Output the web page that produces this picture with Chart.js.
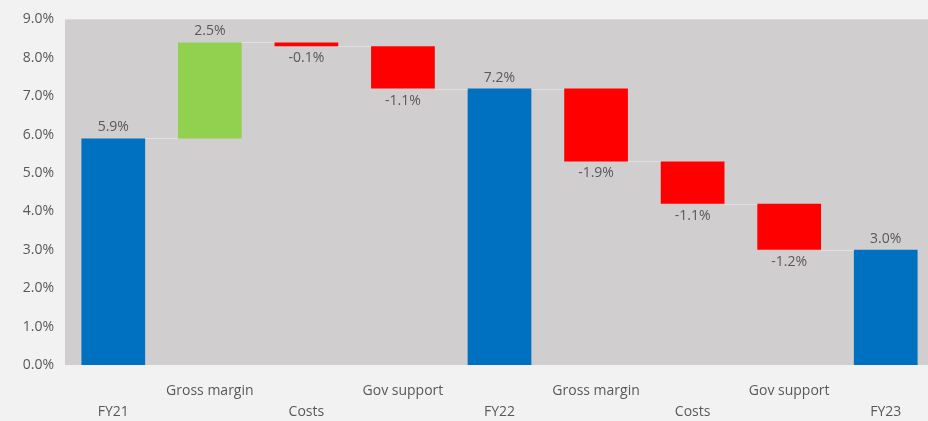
<!DOCTYPE html>
<html>
<head>
<meta charset="utf-8">
<script src="https://cdn.jsdelivr.net/npm/chart.js@4.4.1/dist/chart.umd.min.js"></script>
<style>
  html, body { margin: 0; padding: 0; background: #f2f2f2; overflow: hidden; }
  #wrap { width: 934px; height: 421px; }
</style>
</head>
<body>
<div id="wrap"><canvas id="waterfall"></canvas></div>
<script>
// Catégories et variations de marge (en %)
const categories = ['FY21', 'Gross margin', 'Costs', 'Gov support', 'FY22', 'Gross margin', 'Costs', 'Gov support', 'FY23'];
const changes = [5.9, 2.5, -0.1, -1.1, 7.2, -1.9, -1.1, -1.2, 3.0];
const isTotal = [true, false, false, false, true, false, false, false, true];
const yTicks = [0, 1, 2, 3, 4, 5, 6, 7, 8, 9];

const BLUE = '#0070c0', GREEN = '#92d050', RED = '#ff0000';
const TEXT = '#595959';
const FONT = 'Open Sans';

// Calcul des barres flottantes [début, fin]
const ranges = [];
let level = 0;
changes.forEach((v, i) => {
    if (isTotal[i]) {
        level = v;
        ranges.push([0, v]);
    } else {
        ranges.push([level, +(level + v).toFixed(2)]);
        level = +(level + v).toFixed(2);
    }
});
const colors = changes.map((v, i) => isTotal[i] ? BLUE : (v >= 0 ? GREEN : RED));

// Fond gris de la zone de tracé + lignes de liaison
const plotBackground = {
    id: 'plotBackground',
    beforeDraw(chart) {
        const { ctx, chartArea: a } = chart;
        ctx.save();
        ctx.fillStyle = '#d0cece';
        ctx.fillRect(a.left, a.top, a.right - a.left, a.bottom - a.top);
        ctx.restore();
    },
    afterDatasetsDraw(chart) {
        const { ctx, scales } = chart;
        const meta = chart.getDatasetMeta(0);
        ctx.save();
        ctx.strokeStyle = 'rgba(235,235,235,0.6)';
        ctx.lineWidth = 1;
        for (let i = 0; i < ranges.length - 1; i++) {
            const y = Math.round(scales.y.getPixelForValue(ranges[i][1])) + 0.5;
            const b1 = meta.data[i], b2 = meta.data[i + 1];
            ctx.beginPath();
            ctx.moveTo(b1.x + b1.width / 2, y);
            ctx.lineTo(b2.x - b2.width / 2, y);
            ctx.stroke();
        }
        ctx.restore();
    }
};

// Étiquettes de valeur au-dessus / en dessous des barres
const valueLabels = {
    id: 'valueLabels',
    afterDatasetsDraw(chart) {
        const { ctx } = chart;
        const meta = chart.getDatasetMeta(0);
        ctx.save();
        ctx.font = '14px "' + FONT + '"';
        ctx.fillStyle = TEXT;
        ctx.textAlign = 'center';
        ctx.textBaseline = 'middle';
        meta.data.forEach((bar, i) => {
            const v = changes[i];
            const txt = v.toFixed(1) + '%';
            const top = Math.min(bar.y, bar.base);
            const bottom = Math.max(bar.y, bar.base);
            if (v >= 0) {
                ctx.fillText(txt, bar.x, top - 11);
            } else {
                ctx.fillText(txt, bar.x, bottom + 12);
            }
        });
        ctx.restore();
    }
};

const ctx = document.getElementById('waterfall').getContext('2d');
new Chart(ctx, {
    type: 'bar',
    data: {
        labels: categories,
        datasets: [{
            data: ranges,
            backgroundColor: colors,
            borderWidth: 0,
            barPercentage: 0.66,
            categoryPercentage: 1.0
        }]
    },
    options: {
        responsive: true,
        maintainAspectRatio: false,
        animation: false,
        layout: { padding: { top: 19, right: 0, left: 0, bottom: 0 } },
        plugins: {
            legend: { display: false },
            tooltip: { enabled: false }
        },
        scales: {
            x: {
                grid: { display: false, drawTicks: false },
                border: { display: false },
                afterFit: (axis) => { axis.height = 56; },
                ticks: {
                    color: TEXT,
                    font: { family: FONT, size: 14, lineHeight: 1.5 },
                    padding: 16,
                    maxRotation: 0,
                    autoSkip: false,
                    // étiquettes en quinconce sur deux lignes
                    callback: (val, i) => i % 2 === 0 ? ['', categories[i]] : [categories[i]]
                }
            },
            y: {
                min: 0,
                max: 9,
                afterBuildTicks: (axis) => { axis.ticks = yTicks.map(v => ({ value: v })); },
                afterFit: (axis) => { axis.width = 65; },
                grid: { display: false, drawTicks: false },
                border: { display: false },
                ticks: {
                    color: TEXT,
                    font: { family: FONT, size: 14 },
                    padding: 11,
                    callback: (v) => v.toFixed(1) + '%'
                }
            }
        }
    },
    plugins: [plotBackground, valueLabels]
});
</script>
</body>
</html>
